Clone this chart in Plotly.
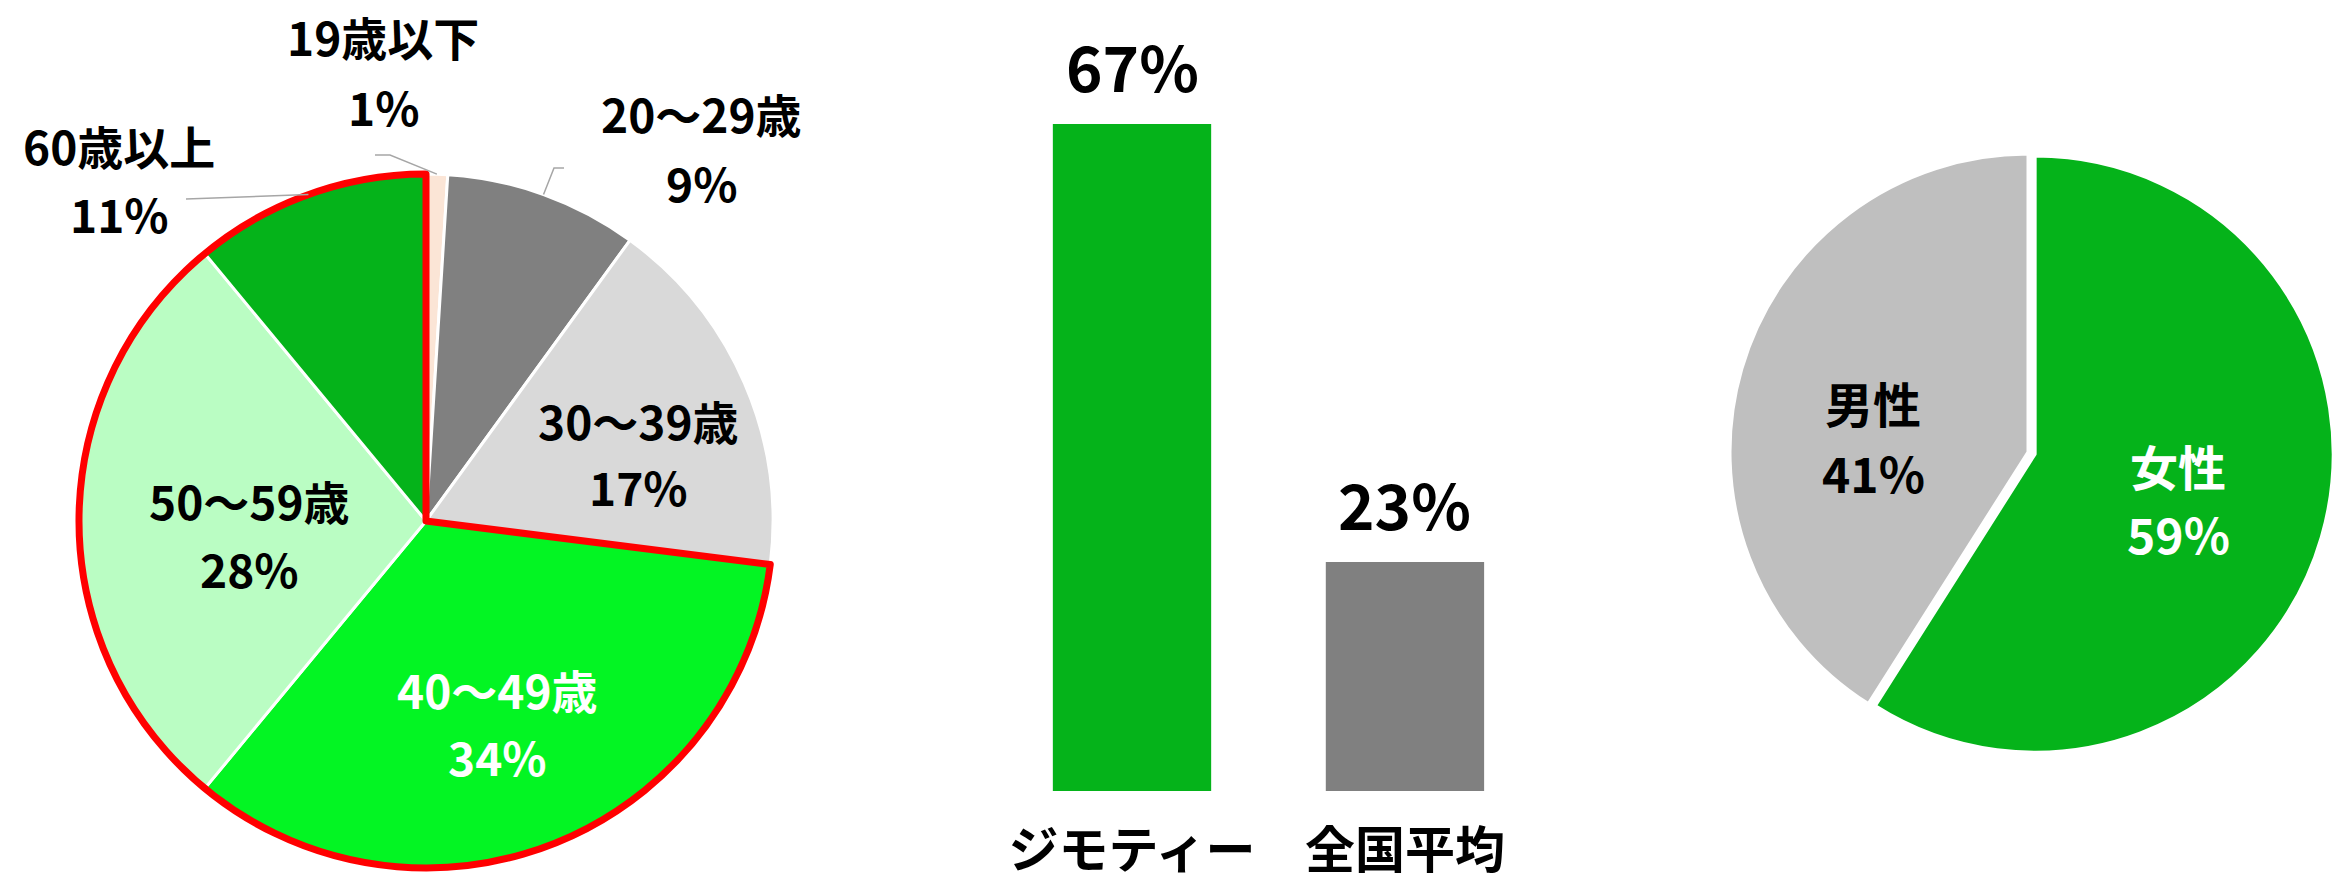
import math
import plotly.graph_objects as go

W, H = 2338, 881

# ---------------- data ----------------
age_labels = ["19歳以下", "20～29歳", "30～39歳", "40～49歳", "50～59歳", "60歳以上"]
age_values = [1, 9, 17, 34, 28, 11]
age_colors = ["#FBE5D6", "#808080", "#D9D9D9", "#03F523", "#BAFDC3", "#05B31A"]
age_text_colors = ["#000000", "#000000", "#000000", "#FFFFFF", "#000000", "#000000"]

bar_categories = ["ジモティー", "全国平均"]
bar_values = [67, 23]
bar_colors = ["#05B31A", "#808080"]

gender_labels = ["女性", "男性"]
gender_values = [59, 41]
gender_colors = ["#05B31A", "#BFBFBF"]
gender_text_colors = ["#FFFFFF", "#000000"]

# ---------------- layout constants (pixels) ----------------
LP_CX, LP_CY, LP_R = 426, 521, 347          # left pie centre / radius
RP_CX, RP_CY, RP_R, RP_PULL = 2028, 452, 298, 0.025

def px(x):
    return x / W

def py(y):
    return 1 - y / H

CJK_FONT = "Noto Sans CJK JP, sans-serif"

fig = go.Figure()

# left pie
ldom = dict(x=[px(LP_CX - LP_R), px(LP_CX + LP_R)], y=[py(LP_CY + LP_R), py(LP_CY - LP_R)])
fig.add_trace(go.Pie(
    labels=age_labels, values=age_values, sort=False, direction="clockwise", rotation=0,
    marker=dict(colors=age_colors, line=dict(color="white", width=3)),
    textinfo="none", hoverinfo="label+percent", domain=ldom, showlegend=False,
))
# red outline around 40+ groups
under40 = sum(age_values[:3])
over40 = sum(age_values[3:])
fig.add_trace(go.Pie(
    labels=["<40", "40+"], values=[under40, over40], sort=False, direction="clockwise", rotation=0,
    marker=dict(colors=["rgba(0,0,0,0)", "rgba(0,0,0,0)"],
                line=dict(color=["rgba(0,0,0,0)", "#FF0000"], width=7)),
    textinfo="none", hoverinfo="skip", domain=ldom, showlegend=False,
))

# right pie
half = RP_R * (1 + RP_PULL)
rdom = dict(x=[px(RP_CX - half), px(RP_CX + half)], y=[py(RP_CY + half), py(RP_CY - half)])
fig.add_trace(go.Pie(
    labels=gender_labels, values=gender_values, sort=False, direction="clockwise", rotation=0,
    pull=[RP_PULL, 0],
    marker=dict(colors=gender_colors, line=dict(color="white", width=3)),
    textinfo="none", hoverinfo="label+percent", domain=rdom, showlegend=False,
))

# bar chart
fig.add_trace(go.Bar(
    x=bar_categories, y=bar_values, marker=dict(color=bar_colors, line=dict(width=0)),
    width=0.58, showlegend=False, hoverinfo="x+y",
))

annotations = []
# bar value labels
for c, v in zip(bar_categories, bar_values):
    annotations.append(dict(
        x=c, y=v, xref="x", yref="y", text=f"{v}%", showarrow=False,
        yanchor="bottom", yshift=12,
        font=dict(family=CJK_FONT, size=62, color="#000000", weight="bold"),
    ))

def two_line(label, pct, x, y1, y2, size, color):
    for txt, yy in ((label, y1), (pct, y2)):
        annotations.append(dict(
            x=px(x), y=py(yy), xref="paper", yref="paper", text=txt,
            showarrow=False, xanchor="center", yanchor="middle",
            font=dict(family=CJK_FONT, size=size, color=color, weight="bold"),
        ))

# left pie labels: (x, first line y, second line y)
age_label_pos = [(383, 36, 106), (701, 113, 182), (638, 420, 486),
                 (497, 689, 756), (249, 500, 568), (119, 145, 213)]
for lab, v, col, (lx, y1, y2) in zip(age_labels, age_values, age_text_colors, age_label_pos):
    two_line(lab, f"{v}%", lx, y1, y2, 46, col)

# right pie labels
gender_label_pos = [(2178, 465, 533), (1873, 402, 472)]
for lab, v, col, (lx, y1, y2) in zip(gender_labels, gender_values, gender_text_colors, gender_label_pos):
    two_line(lab, f"{v}%", lx, y1, y2, 48, col)

# leader lines for outside labels (end on slice edge at mid angle)
def edge_point(idx):
    cum = sum(age_values[:idx]) + age_values[idx] / 2
    ang = cum / sum(age_values) * 2 * math.pi
    return LP_CX + LP_R * math.sin(ang), LP_CY - LP_R * math.cos(ang)

leader_elbows = {0: [(390, 155), (375, 155)], 1: [(554, 168), (564, 168)], 5: [(186, 199)]}
shapes = []
for idx, pts in leader_elbows.items():
    ex, ey = edge_point(idx)
    path = f"M {px(ex)} {py(ey)}" + "".join(f" L {px(a)} {py(b)}" for a, b in pts)
    shapes.append(dict(type="path", xref="paper", yref="paper", path=path,
                       line=dict(color="#A6A6A6", width=1.5)))

fig.update_layout(
    width=W, height=H, margin=dict(l=0, r=0, t=0, b=0, autoexpand=False),
    paper_bgcolor="white", plot_bgcolor="white",
    bargap=0.42,
    xaxis=dict(domain=[0.4258, 0.6593], range=[-0.5, 1.5], showgrid=False, zeroline=False,
               showline=False, ticks="", ticklabelstandoff=26, automargin=False,
               tickfont=dict(family=CJK_FONT, size=50, color="#000000", weight="bold")),
    yaxis=dict(domain=[py(791), py(791) + 70 * 9.955 / H], range=[0, 70], visible=False,
               showgrid=False, zeroline=False, automargin=False),
    annotations=annotations, shapes=shapes,
)

fig.write_html("out.html")
